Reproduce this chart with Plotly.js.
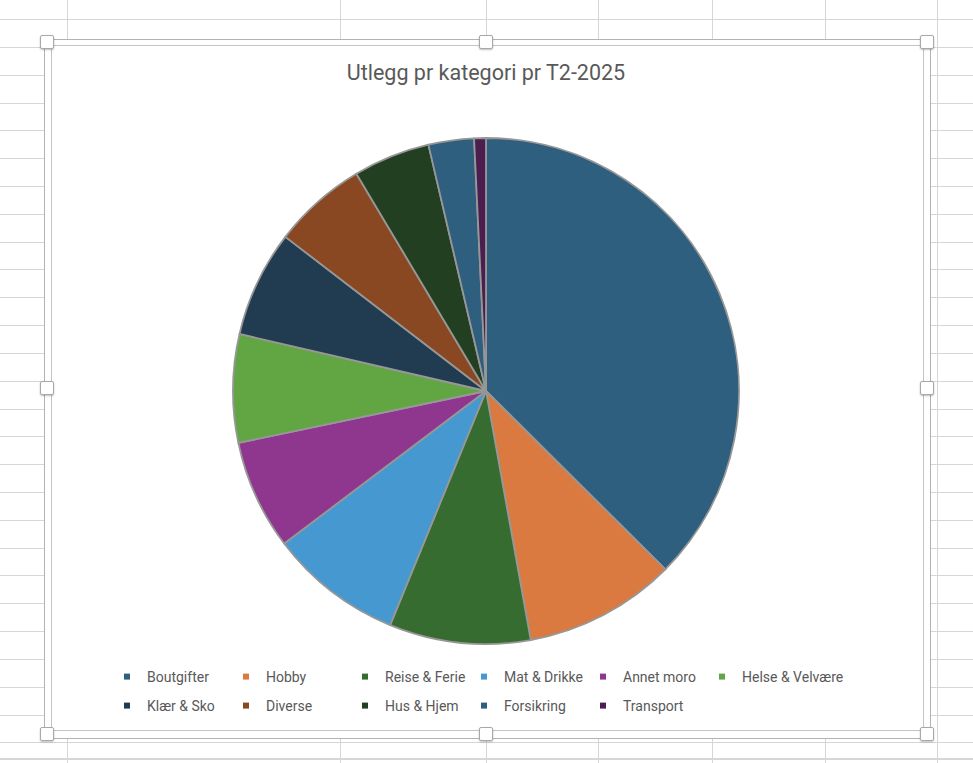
<!DOCTYPE html>
<html>
<head>
<meta charset="utf-8">
<script src="https://cdn.plot.ly/plotly-3.0.1.min.js"></script>
<style>
  html, body { margin: 0; padding: 0; width: 973px; height: 763px; overflow: hidden; background: #ffffff; }
  #sheet { position: absolute; left: 0; top: 0; width: 973px; height: 763px; }
  .hl { position: absolute; left: 0; width: 973px; height: 1px; background: #d6d6d6; }
  .vl { position: absolute; top: 0; width: 1px; height: 763px; background: #d6d6d6; }
  #outer { position: absolute; left: 44px; top: 39px; width: 885px; height: 698px; border: 1px solid #b3b3b3; background: #ffffff; }
  #inner { position: absolute; left: 51px; top: 45px; width: 871px; height: 684px; border: 1px solid #c4c4c4; background: #ffffff; }
  .hd { position: absolute; width: 12px; height: 12px; background: #ffffff; border: 1px solid #a8a8a8; border-radius: 2px; box-shadow: 0 1px 2px rgba(0,0,0,0.25); z-index: 5; }
  #chart { position: absolute; left: 0; top: 0; width: 973px; height: 763px; z-index: 3; }
</style>
</head>
<body>
<div id="sheet"></div>
<div id="outer"></div>
<div id="inner"></div>
<div id="chart"></div>
<script>
// ---- data ----
const categories = ["Boutgifter", "Hobby", "Reise & Ferie", "Mat & Drikke", "Annet moro",
                    "Helse & Velvære", "Klær & Sko", "Diverse", "Hus & Hjem", "Forsikring", "Transport"];
const values = [37400, 9700, 9000, 8500, 7000, 6900, 6800, 6000, 4900, 2900, 750];
const colors = ["#2E5F7F", "#DB7A40", "#376C31", "#4699D0", "#8F368F",
                "#62A543", "#213B50", "#8A4822", "#223F21", "#2E5F7F", "#4B1E4F"];
const titleText = "Utlegg pr kategori pr T2-2025";

// ---- spreadsheet backdrop (decoration) ----
const sheet = document.getElementById('sheet');
for (let i = 0; i < 28; i++) {
  const d = document.createElement('div'); d.className = 'hl';
  d.style.top = (19 + i * 27.82).toFixed(1) + 'px'; sheet.appendChild(d);
}
{ const d = document.createElement('div'); d.className = 'hl'; d.style.top = '758px'; d.style.height = '2px'; sheet.appendChild(d); }
[67, 340, 486, 598, 712, 825, 937].forEach(x => {
  const d = document.createElement('div'); d.className = 'vl'; d.style.left = x + 'px'; sheet.appendChild(d);
});
[[47,42],[486,42],[927,42],[47,388],[927,388],[47,734],[486,734],[927,734]].forEach(p => {
  const d = document.createElement('div'); d.className = 'hd';
  d.style.left = (p[0] - 7) + 'px'; d.style.top = (p[1] - 7) + 'px'; document.body.appendChild(d);
});

// ---- chart ----
const W = 973, H = 763;
const traces = [{
  type: 'pie',
  labels: categories,
  values: values,
  sort: false,
  direction: 'clockwise',
  rotation: 0,
  textinfo: 'none',
  hoverinfo: 'label+value+percent',
  marker: { colors: colors, line: { color: '#979797', width: 1.8 } },
  showlegend: false,
  domain: { x: [233 / W, 739 / W], y: [(H - 644) / H, (H - 138) / H] }
}];
// legend entries (two rows of the Excel legend)
categories.forEach((c, i) => {
  traces.push({
    type: 'scatter', mode: 'markers', x: [null], y: [null], name: c,
    marker: { symbol: 'square', size: 6, color: colors[i] },
    legend: i < 6 ? 'legend' : 'legend2', showlegend: true, hoverinfo: 'skip'
  });
});
// invisible spacer entry so the last column's text is not clipped
traces.push({
  type: 'scatter', mode: 'markers', x: [null], y: [null], name: '\u00a0\u00a0',
  marker: { symbol: 'square', size: 6, color: 'rgba(0,0,0,0)' },
  legend: 'legend', showlegend: true, hoverinfo: 'skip'
});
const legendBase = {
  orientation: 'h', xanchor: 'left', yanchor: 'middle', x: 107 / W,
  bgcolor: 'rgba(0,0,0,0)', borderwidth: 0,
  entrywidth: 74, entrywidthmode: 'pixels',
  font: { family: 'Roboto, sans-serif', size: 14, color: '#595959' },
  itemclick: false, itemdoubleclick: false
};
const layout = {
  width: W, height: H,
  margin: { l: 0, r: 0, t: 0, b: 0 },
  paper_bgcolor: 'rgba(0,0,0,0)', plot_bgcolor: 'rgba(0,0,0,0)',
  title: {
    text: titleText, x: 486 / W, xanchor: 'center', y: (H - 72) / H, yanchor: 'middle',
    font: { family: 'Roboto, sans-serif', size: 21.5, color: '#595959' }
  },
  xaxis: { visible: false }, yaxis: { visible: false },
  legend: Object.assign({}, legendBase, { y: (H - 677) / H }),
  legend2: Object.assign({}, legendBase, { y: (H - 706) / H }),
  showlegend: true
};
Plotly.newPlot('chart', traces, layout, { staticPlot: true, displayModeBar: false });
</script>
</body>
</html>
